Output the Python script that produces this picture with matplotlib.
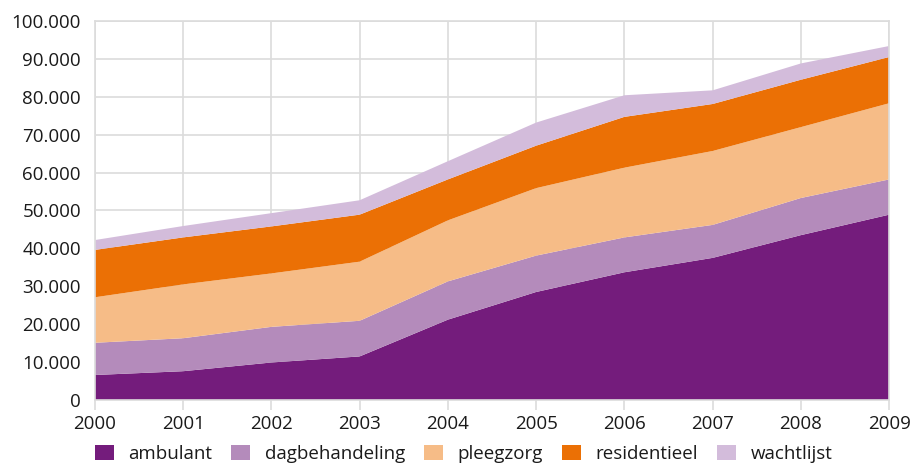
import numpy as np
import matplotlib
matplotlib.use("Agg")
import matplotlib.pyplot as plt
from matplotlib.ticker import FuncFormatter, MultipleLocator

years = [2000, 2001, 2002, 2003, 2004, 2005, 2006, 2007, 2008, 2009]
ambulant = [6600, 7600, 9900, 11500, 21200, 28500, 33700, 37500, 43500, 48900]
dagbehandeling = [8500, 8700, 9400, 9400, 10100, 9600, 9200, 8700, 9800, 9300]
pleegzorg = [12000, 14200, 14100, 15600, 16100, 17800, 18400, 19500, 18700, 20100]
residentieel = [12500, 12400, 12400, 12400, 10800, 11200, 13400, 12400, 12500, 12200]
wachtlijst = [2600, 3000, 3500, 3800, 4800, 6100, 5700, 3600, 4300, 2900]

labels = ["ambulant", "dagbehandeling", "pleegzorg", "residentieel", "wachtlijst"]
colors = ["#741c7c", "#b48bbb", "#f6bc87", "#eb7005", "#d3bcdb"]

plt.rcParams["font.family"] = ["Open Sans", "DejaVu Sans"]
plt.rcParams["text.color"] = "#1a1a1a"
plt.rcParams["xtick.labelcolor"] = "#1a1a1a"
plt.rcParams["ytick.labelcolor"] = "#1a1a1a"

fig = plt.figure(figsize=(9.12, 4.66), dpi=100)
ax = fig.add_axes([0.104, 0.1416, 0.871, 0.8134])

ax.stackplot(years, ambulant, dagbehandeling, pleegzorg, residentieel, wachtlijst,
             labels=labels, colors=colors, linewidth=0, zorder=2)

ax.set_xlim(2000, 2009)
ax.set_ylim(0, 100000)
ax.set_xticks(years)
ax.yaxis.set_major_locator(MultipleLocator(10000))
ax.yaxis.set_major_formatter(FuncFormatter(lambda v, p: f"{int(v):,}".replace(",", ".")))

ax.grid(True, color="#dcdcdc", linewidth=1.2, zorder=0)
ax.set_axisbelow(True)
for s in ax.spines.values():
    s.set_color("#dcdcdc")
    s.set_linewidth(1.2)
ax.tick_params(axis="x", length=7, color="#dcdcdc", width=1.2, labelsize=13.5, pad=4)
ax.tick_params(axis="y", length=0, labelsize=13.5, pad=10)

leg = fig.legend(loc="center left", bbox_to_anchor=(0.104, 0.026), ncol=5, frameon=False,
                 fontsize=13.5, handlelength=1.0, handleheight=0.9, handletextpad=0.8,
                 columnspacing=1.0, borderaxespad=0, borderpad=0)

fig.savefig("out.png", dpi=100)
